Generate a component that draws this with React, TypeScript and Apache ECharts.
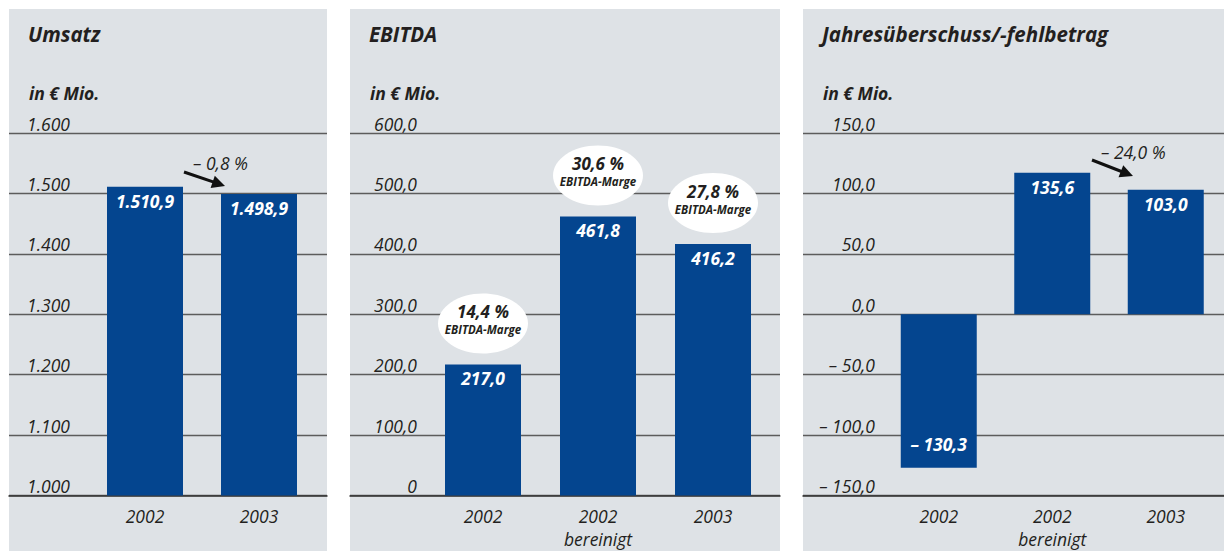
import React, { useEffect, useRef } from 'react';
import * as echarts from 'echarts';

// ---- data ----
const umsatzCategories = ['2002', '2003'];
const umsatzValues = [1510.9, 1498.9];
const umsatzLabels = ['1.510,9', '1.498,9'];
const umsatzTicks = ['1.000', '1.100', '1.200', '1.300', '1.400', '1.500', '1.600'];
const umsatzChange = '– 0,8 %';

const ebitdaCategories = ['2002', '2002\nbereinigt', '2003'];
const ebitdaValues = [217.0, 461.8, 416.2];
const ebitdaLabels = ['217,0', '461,8', '416,2'];
const ebitdaMargins = ['14,4 %', '30,6 %', '27,8 %'];
const ebitdaMarginCaption = 'EBITDA-Marge';
const ebitdaTicks = ['0', '100,0', '200,0', '300,0', '400,0', '500,0', '600,0'];

const jahresCategories = ['2002', '2002\nbereinigt', '2003'];
const jahresBarHeights = [-127.0, 117.2, 103.0]; // bar heights as drawn in the picture
const jahresLabels = ['– 130,3', '135,6', '103,0'];
const jahresTicks = ['– 150,0', '– 100,0', '– 50,0', '0,0', '50,0', '100,0', '150,0'];
const jahresChange = '– 24,0 %';

const titles = ['Umsatz', 'EBITDA', 'Jahresüberschuss/-fehlbetrag'];
const unitLabel = 'in € Mio.';

// ---- styles ----
const FONT = "'Open Sans', 'Noto Sans', sans-serif";
const TEXT = '#231f20';
const BAR = '#04458f';
const PANEL_BG = '#dee2e6';
const GRID_LINE = '#5c5c5c';
const TOP = 133;
const BOTTOM = 551 - 495.5;

const panels = [
  { x: 9, w: 318, barLeft: 88, barW: 228, labelMargin: 61, min: 1000, max: 1600, interval: 100, ticks: umsatzTicks },
  { x: 350, w: 430, barLeft: 425.5, barW: 345, labelMargin: 67, min: 0, max: 600, interval: 100, ticks: ebitdaTicks },
  { x: 803, w: 421, barLeft: 882, barW: 340.5, labelMargin: 72, min: -150, max: 150, interval: 50, ticks: jahresTicks },
];

function arrow(x1: number, y1: number, x2: number, y2: number) {
  const dx = x2 - x1;
  const dy = y2 - y1;
  const len = Math.sqrt(dx * dx + dy * dy);
  const ux = dx / len;
  const uy = dy / len;
  const hl = 13;
  const hw = 6.5;
  const bx = x2 - ux * hl;
  const by = y2 - uy * hl;
  return [
    {
      type: 'line',
      shape: { x1, y1, x2: bx + ux * 2, y2: by + uy * 2 },
      style: { stroke: '#111', lineWidth: 3 },
    },
    {
      type: 'polygon',
      shape: {
        points: [
          [x2, y2],
          [bx - uy * hw, by + ux * hw],
          [bx + uy * hw, by - ux * hw],
        ],
      },
      style: { fill: '#111' },
    },
  ];
}

export default function App() {
  const ref = useRef<HTMLDivElement>(null);

  useEffect(() => {
    if (!ref.current) return;
    const chart = echarts.init(ref.current, null, { renderer: 'svg' });

    const grid: any[] = [];
    const xAxis: any[] = [];
    const yAxis: any[] = [];
    const cats = [umsatzCategories, ebitdaCategories, jahresCategories];

    panels.forEach((p, i) => {
      grid.push({ left: p.x, width: p.w, top: TOP, bottom: BOTTOM });
      grid.push({ left: p.barLeft, width: p.barW, top: TOP, bottom: BOTTOM });
      xAxis.push({
        gridIndex: i * 2,
        type: 'category',
        data: [''],
        axisLine: { show: true, onZero: false, lineStyle: { color: '#333', width: 1.5 } },
        axisTick: { show: false },
        axisLabel: { show: false },
        splitLine: { show: false },
      });
      xAxis.push({
        gridIndex: i * 2 + 1,
        type: 'category',
        data: cats[i],
        axisLine: { show: false },
        axisTick: { show: false },
        axisLabel: {
          margin: 9,
          fontFamily: FONT,
          fontStyle: 'italic',
          fontSize: 17.5,
          lineHeight: 23,
          color: TEXT,
        },
      });
      yAxis.push({
        gridIndex: i * 2,
        type: 'value',
        min: p.min,
        max: p.max,
        interval: p.interval,
        axisLine: { show: false },
        axisTick: { show: false },
        splitLine: { show: true, lineStyle: { color: GRID_LINE, width: 1.3 } },
        axisLabel: {
          inside: true,
          align: 'right',
          verticalAlign: 'bottom',
          margin: p.labelMargin,
          showMinLabel: true,
          showMaxLabel: true,
          fontFamily: FONT,
          fontStyle: 'italic',
          fontSize: 17.5,
          lineHeight: 19,
          color: TEXT,
          formatter: (_v: number, idx: number) => p.ticks[idx],
        },
      });
      yAxis.push({
        gridIndex: i * 2 + 1,
        type: 'value',
        min: p.min,
        max: p.max,
        interval: p.interval,
        show: false,
        splitLine: { show: false },
      });
    });

    const barLabel = (labels: string[]) => ({
      show: true,
      position: 'insideTop',
      distance: 5,
      color: '#fff',
      fontFamily: FONT,
      fontStyle: 'italic',
      fontWeight: 'bold',
      fontSize: 17.5,
      lineHeight: 18,
      formatter: (pp: any) => labels[pp.dataIndex],
    });

    const series: any[] = [
      {
        type: 'bar',
        xAxisIndex: 1,
        yAxisIndex: 1,
        data: umsatzValues,
        barWidth: 76,
        itemStyle: { color: BAR },
        label: barLabel(umsatzLabels),
      },
      {
        type: 'bar',
        xAxisIndex: 3,
        yAxisIndex: 3,
        data: ebitdaValues,
        barWidth: 76,
        itemStyle: { color: BAR },
        label: barLabel(ebitdaLabels),
      },
      {
        type: 'bar',
        xAxisIndex: 5,
        yAxisIndex: 5,
        data: jahresBarHeights.map((v) =>
          v < 0 ? { value: v, label: { position: 'insideBottom', distance: 15 } } : v
        ),
        barWidth: 76,
        itemStyle: { color: BAR },
        label: barLabel(jahresLabels),
      },
    ];

    const baseGraphic: any[] = [];
    panels.forEach((p, i) => {
      baseGraphic.push({
        type: 'rect',
        z: -10,
        shape: { x: p.x, y: 9, width: p.w, height: 551 - 9 },
        style: { fill: PANEL_BG },
        silent: true,
      });
      baseGraphic.push({
        type: 'text',
        x: p.x + 19,
        y: 34,
        style: {
          text: titles[i],
          fill: TEXT,
          font: `italic bold 20.5px ${FONT}`,
          verticalAlign: 'middle',
          align: 'left',
        },
      });
      baseGraphic.push({
        type: 'text',
        x: p.x + 20,
        y: 93,
        style: {
          text: unitLabel,
          fill: TEXT,
          font: `italic bold 17.5px ${FONT}`,
          verticalAlign: 'middle',
          align: 'left',
        },
      });
    });

    baseGraphic.push(
      ...arrow(184, 172, 225, 186),
      {
        type: 'text',
        x: 193,
        y: 163,
        style: { text: umsatzChange, fill: TEXT, font: `italic 17.5px ${FONT}`, verticalAlign: 'middle', align: 'left' },
      },
      ...arrow(1092, 160, 1133, 176),
      {
        type: 'text',
        x: 1101,
        y: 152,
        style: { text: jahresChange, fill: TEXT, font: `italic 17.5px ${FONT}`, verticalAlign: 'middle', align: 'left' },
      }
    );

    chart.setOption({
      animation: false,
      backgroundColor: '#ffffff',
      grid,
      xAxis,
      yAxis,
      series,
      graphic: baseGraphic,
    });

    const bubbles: any[] = [];
    ebitdaValues.forEach((v, i) => {
      const pt = chart.convertToPixel({ xAxisIndex: 3, yAxisIndex: 3 } as any, [i, v]) as number[];
      const cx = pt[0];
      const cy = pt[1] - 41;
      bubbles.push(
        { type: 'ellipse', shape: { cx, cy, rx: 45, ry: 30 }, style: { fill: '#ffffff' }, z: 5 },
        {
          type: 'text',
          x: cx,
          y: cy - 4,
          z: 6,
          style: {
            text: `{a|${ebitdaMargins[i]}}\n{b|${ebitdaMarginCaption}}`,
            align: 'center',
            verticalAlign: 'middle',
            rich: {
              a: { fill: TEXT, fontFamily: FONT, fontStyle: 'italic', fontWeight: 'bold', fontSize: 17, lineHeight: 20, align: 'center' },
              b: { fill: TEXT, fontFamily: FONT, fontStyle: 'italic', fontWeight: 'bold', fontSize: 11.5, lineHeight: 16, align: 'center' },
            },
          },
        }
      );
    });
    chart.setOption({ graphic: [...baseGraphic, ...bubbles] });

    return () => chart.dispose();
  }, []);

  return (
    <div
      ref={ref}
      style={{ position: 'fixed', left: 0, top: 0, width: 1224, height: 551 }}
    />
  );
}
